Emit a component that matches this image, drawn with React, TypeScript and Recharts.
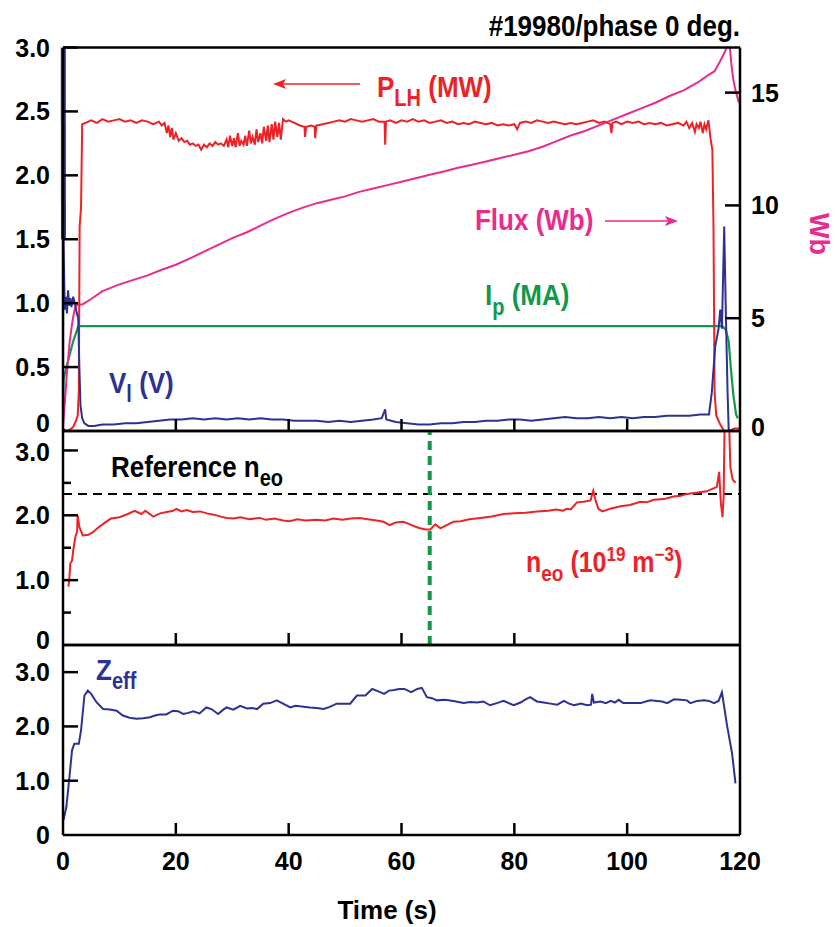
import { Line, LineChart, ReferenceLine, XAxis, YAxis } from 'recharts';

const FONT = '"Liberation Sans", Arial, Helvetica, sans-serif';
const RED = '#EC2227';
const PINK = '#EA2A8E';
const GREEN = '#11994B';
const BLUE = '#2E3192';
const W = 838;
const H = 927;

// axis ticks
const timeTicks = [0, 20, 40, 60, 80, 100, 120];
const mwTicks = [0, 0.5, 1, 1.5, 2, 2.5, 3];
const wbTicks = [0, 5, 10, 15];
const neoTicks = [0, 0.5, 1, 1.5, 2, 2.5, 3];
const zeffTicks = [0, 1, 2, 3];

const neoReference = 2.33;
const scanTime = 65;

// [time (s), value] samples
const pLH: [number, number][] = [
  [0, 0.02], [0.6, 0.0], [1.2, 0.01], [1.8, 0.03], [2.3, 0.08], [2.6, 0.12], [2.8, 0.3], [2.95, 1.6], [3.2, 1.75], [3.4, 2.4],
  [4, 2.41], [5, 2.43], [6, 2.41], [7, 2.44], [8, 2.42], [9, 2.43], [10, 2.44], [11, 2.42], [12, 2.43], [13, 2.41],
  [14, 2.43], [15, 2.42], [16, 2.4], [17, 2.42], [17.5, 2.39], [18, 2.41], [18.4, 2.33], [18.7, 2.39], [19, 2.3], [19.3, 2.37],
  [19.6, 2.28], [20, 2.33], [20.5, 2.27], [21, 2.29], [21.5, 2.26], [22, 2.27], [22.5, 2.24], [23, 2.25], [23.5, 2.23], [24, 2.24],
  [24.5, 2.2], [25, 2.24], [25.5, 2.22], [26, 2.25], [26.5, 2.23], [27, 2.26], [27.5, 2.24], [28, 2.25], [28.5, 2.23], [29, 2.28],
  [29.3, 2.22], [29.6, 2.31], [30, 2.23], [30.3, 2.29], [30.6, 2.22], [31, 2.33], [31.3, 2.23], [31.6, 2.27], [32, 2.24], [32.3, 2.31],
  [32.6, 2.23], [33, 2.35], [33.3, 2.25], [33.6, 2.3], [34, 2.24], [34.3, 2.36], [34.6, 2.26], [35, 2.33], [35.3, 2.25], [35.6, 2.38],
  [36, 2.27], [36.3, 2.39], [36.6, 2.26], [37, 2.4], [37.3, 2.28], [37.6, 2.42], [38, 2.3], [38.3, 2.41], [38.6, 2.28], [39, 2.44],
  [39.5, 2.42], [40, 2.43], [41, 2.41], [42, 2.39], [42.8, 2.38], [42.9, 2.3], [43.1, 2.38], [44, 2.39], [44.6, 2.38], [44.7, 2.29],
  [44.9, 2.39], [46, 2.4], [47, 2.41], [48, 2.42], [49, 2.43], [50, 2.42], [51, 2.44], [52, 2.43], [53, 2.42], [54, 2.43],
  [55, 2.44], [56, 2.42], [57, 2.42], [57.1, 2.24], [57.25, 2.42], [58, 2.43], [59, 2.41], [60, 2.43], [61, 2.42], [62, 2.44],
  [63, 2.42], [64, 2.43], [65, 2.41], [66, 2.42], [67, 2.43], [68, 2.41], [69, 2.42], [70, 2.4], [71, 2.41], [72, 2.4],
  [73, 2.42], [74, 2.41], [75, 2.4], [76, 2.41], [77, 2.39], [78, 2.4], [79, 2.39], [80, 2.4], [80.5, 2.36], [81, 2.41],
  [82, 2.42], [83, 2.41], [84, 2.43], [85, 2.42], [86, 2.41], [87, 2.42], [88, 2.41], [89, 2.4], [90, 2.41], [91, 2.4],
  [92, 2.41], [93, 2.42], [94, 2.43], [95, 2.41], [96, 2.42], [97, 2.4], [97.2, 2.33], [97.4, 2.41], [98, 2.42], [99, 2.4],
  [100, 2.42], [101, 2.41], [102, 2.42], [103, 2.4], [104, 2.41], [105, 2.4], [106, 2.41], [107, 2.39], [108, 2.4], [109, 2.41],
  [110, 2.39], [110.5, 2.42], [111, 2.37], [111.5, 2.41], [112, 2.34], [112.3, 2.4], [112.7, 2.37], [113, 2.42], [113.4, 2.33], [113.7, 2.4],
  [114, 2.36], [114.4, 2.43], [114.8, 2.28], [115.1, 2.2], [115.3, 1.6], [115.5, 0.3], [115.8, 0.12], [116.5, 0.05], [117.2, 0.0], [118, 0.0],
  [119, 0.02], [120, 0.02],
];

const flux: [number, number][] = [
  [0, 0.2], [0.3, 1.2], [0.7, 2.6], [1.2, 4.0], [1.7, 4.9], [2.1, 5.45], [2.5, 5.6], [3.5, 5.62], [5, 5.85], [7, 6.2],
  [10, 6.5], [12.5, 6.7], [15, 6.9], [17.5, 7.15], [20, 7.37], [22.5, 7.65], [25, 7.95], [27.5, 8.25], [30, 8.55], [32.5, 8.8],
  [35, 9.1], [37.5, 9.4], [40, 9.67], [42.5, 9.9], [45, 10.1], [47.5, 10.25], [50, 10.4], [52.5, 10.6], [55, 10.75], [57.5, 10.9],
  [60, 11.05], [62.5, 11.2], [65, 11.36], [67.5, 11.5], [70, 11.67], [72.5, 11.8], [75, 11.95], [77.5, 12.1], [80, 12.25], [82.5, 12.4],
  [85, 12.6], [87.5, 12.85], [90, 13.1], [92.5, 13.3], [95, 13.55], [97.5, 13.8], [100, 14.05], [102.5, 14.3], [105, 14.55], [107.5, 14.85],
  [110, 15.1], [112.5, 15.45], [114.5, 15.8], [115.5, 15.95], [116.5, 16.4], [117.3, 16.8], [117.8, 17.1], [118.2, 17.0], [118.5, 16.2], [118.8, 15.6],
  [119.2, 15.1], [119.8, 14.55],
];

const ip: [number, number][] = [
  [0, 0.2], [0.1, 0.4], [0.6, 0.5], [1.2, 0.6], [1.8, 0.7], [2.4, 0.78], [2.7, 0.82], [116.9, 0.82], [117.5, 0.79], [118.0, 0.7],
  [118.4, 0.48], [118.8, 0.29], [119.3, 0.13], [119.6, 0.1],
];

const vlStart: [number, number][] = [[0.05, 3.0], [0.08, 1.5]];

const vl: [number, number][] = [
  [0, 0.0], [0.05, 3.0], [0.1, 1.5], [0.3, 0.95], [0.5, 1.05], [0.7, 0.92], [0.9, 1.1], [1.1, 0.98], [1.3, 1.04], [1.5, 0.97],
  [1.8, 1.05], [2.1, 1.0], [2.4, 0.93], [2.7, 0.88], [2.9, 0.5], [3.1, 0.2], [3.4, 0.1], [3.8, 0.06], [4.5, 0.04], [5.5, 0.04],
  [7, 0.05], [9, 0.05], [11, 0.06], [13, 0.06], [15, 0.07], [17, 0.08], [19, 0.09], [21, 0.09], [23, 0.1], [25, 0.09],
  [27, 0.1], [29, 0.09], [31, 0.1], [33, 0.09], [35, 0.1], [37, 0.09], [39, 0.09], [41, 0.08], [43, 0.08], [45, 0.08],
  [47, 0.07], [49, 0.08], [51, 0.07], [53, 0.08], [55, 0.09], [56.5, 0.1], [57.1, 0.17], [57.3, 0.09], [59, 0.07], [61, 0.06],
  [63, 0.05], [65, 0.05], [67, 0.06], [69, 0.06], [71, 0.07], [73, 0.07], [75, 0.08], [77, 0.08], [79, 0.09], [81, 0.09],
  [83, 0.08], [85, 0.09], [87, 0.1], [89, 0.11], [91, 0.1], [93, 0.1], [95, 0.11], [97, 0.1], [99, 0.11], [101, 0.1],
  [103, 0.11], [105, 0.11], [107, 0.12], [109, 0.12], [111, 0.12], [113, 0.13], [114.5, 0.13], [115, 0.3], [115.6, 0.66], [116.2, 0.8],
  [116.5, 0.95], [116.8, 0.8], [117.2, 1.6], [117.5, 0.9], [117.8, 0.3], [118, 0.0], [118.5, 0.0],
];

const neo: [number, number][] = [
  [0.95, 0.9], [1.1, 1.0], [1.3, 1.26], [1.6, 1.3], [1.8, 1.45], [2.2, 1.67], [2.5, 1.75], [2.6, 2.0], [2.9, 1.82], [3.5, 1.69],
  [4.5, 1.7], [5.3, 1.74], [6.1, 1.8], [7.3, 1.88], [8.5, 1.95], [10, 1.97], [11.5, 2.02], [12.7, 2.07], [13.9, 2.02], [14.6, 2.07],
  [16, 1.98], [17.2, 2.03], [18.4, 2.05], [19.5, 2.07], [20.1, 2.1], [21, 2.06], [21.9, 2.08], [23, 2.05], [24.3, 2.06], [25.5, 2.03],
  [26.7, 2.01], [28, 1.98], [29, 1.96], [30.2, 1.95], [31.5, 1.97], [33, 1.94], [34.9, 1.96], [36, 1.93], [37.5, 1.95], [39, 1.92],
  [40.2, 1.91], [41.5, 1.94], [43, 1.92], [44.9, 1.93], [46.5, 1.92], [47.9, 1.95], [49.5, 1.93], [51, 1.95], [52.6, 1.96], [54, 1.94],
  [55.6, 1.92], [56.8, 1.9], [57.9, 1.85], [59, 1.89], [60.3, 1.9], [61.5, 1.86], [62.6, 1.82], [63.3, 1.8], [64.3, 1.78], [65.1, 1.78],
  [66, 1.86], [66.9, 1.8], [68, 1.85], [69.2, 1.9], [70.5, 1.91], [72, 1.94], [74, 1.96], [76, 1.98], [78.1, 2.02], [80, 2.03],
  [82, 2.04], [84, 2.06], [86, 2.07], [87.5, 2.09], [88.6, 2.07], [89.3, 2.1], [90, 2.09], [91.1, 2.2], [92.3, 2.21], [93.5, 2.23],
  [94, 2.38], [94.4, 2.23], [94.9, 2.1], [95.6, 2.06], [97, 2.1], [98.8, 2.14], [100.5, 2.16], [102.3, 2.21], [103.5, 2.2], [104.7, 2.24],
  [106.5, 2.25], [108.2, 2.29], [109.5, 2.3], [110.6, 2.33], [112.5, 2.35], [114.1, 2.37], [115.4, 2.42], [115.9, 2.44], [116.3, 2.67], [116.6, 2.2],
  [116.9, 1.97], [117.1, 2.3], [117.3, 3.6], [117.8, 3.6], [118, 3.6], [118.3, 2.74], [118.7, 2.55], [119.2, 2.5],
];

const zeff: [number, number][] = [
  [0.1, 0.28], [0.6, 0.52], [1.2, 1.13], [1.6, 1.56], [2, 1.68], [2.8, 1.68], [3.2, 1.93], [3.8, 2.57], [4.4, 2.66], [5, 2.6],
  [5.9, 2.45], [7.1, 2.32], [8.3, 2.31], [9.5, 2.29], [10.6, 2.2], [11.8, 2.16], [13, 2.14], [14.2, 2.15], [15.4, 2.17], [16.3, 2.2],
  [17.1, 2.22], [18.3, 2.22], [19.5, 2.29], [20.4, 2.28], [21.3, 2.23], [22.2, 2.25], [23.1, 2.28], [24.2, 2.24], [25.4, 2.35], [26.3, 2.32],
  [27.5, 2.23], [28.3, 2.3], [29, 2.35], [30.2, 2.31], [31.4, 2.38], [32.6, 2.33], [33.5, 2.34], [34.4, 2.32], [35.5, 2.42], [36.7, 2.43],
  [37.9, 2.48], [39, 2.42], [40.3, 2.35], [41.2, 2.38], [42, 2.37], [43, 2.36], [43.8, 2.35], [45, 2.34], [46.2, 2.32], [47.3, 2.36],
  [48.5, 2.42], [49.7, 2.42], [50.9, 2.42], [52.1, 2.57], [53.6, 2.57], [54.8, 2.69], [55.8, 2.65], [56.9, 2.6], [57.8, 2.66], [58.7, 2.67],
  [59.6, 2.69], [60.5, 2.69], [61.7, 2.63], [62.8, 2.69], [63.6, 2.71], [64.5, 2.54], [65.4, 2.52], [66.3, 2.48], [67.7, 2.49], [69.2, 2.47],
  [70.1, 2.45], [71, 2.43], [72.2, 2.45], [73.4, 2.44], [74.5, 2.46], [75.7, 2.39], [76.9, 2.43], [78.1, 2.47], [79.9, 2.39], [81.1, 2.44],
  [82, 2.5], [82.8, 2.54], [84, 2.46], [85.2, 2.44], [86.4, 2.42], [87.6, 2.4], [88.8, 2.47], [89.7, 2.42], [90.6, 2.39], [91.8, 2.42],
  [92.9, 2.39], [93.6, 2.4], [93.8, 2.6], [94.1, 2.44], [95.3, 2.46], [96.2, 2.43], [97.1, 2.47], [97.8, 2.44], [98.5, 2.49], [99.3, 2.43],
  [100.6, 2.43], [101.5, 2.43], [102.4, 2.43], [103.3, 2.46], [104.1, 2.48], [105.3, 2.47], [106.2, 2.46], [107.1, 2.43], [108.3, 2.5], [109.5, 2.49],
  [110.6, 2.48], [111.2, 2.43], [112.4, 2.47], [113.6, 2.48], [114.5, 2.47], [115.4, 2.43], [116.2, 2.47], [116.8, 2.63], [117.7, 2.02], [118.6, 1.5],
  [119.2, 0.95],
];

const rows = (pts: [number, number][]) => pts.map(([t, v]) => ({ t, v }));

const frame = { stroke: '#000', strokeWidth: 2.5 };
const labelStyle = { fontFamily: FONT, fontWeight: 700, fontSize: 25, fill: '#000' };

type Side = 'left' | 'right' | 'top' | 'bottom';

// tick marks point into the plot; labels (if any) sit outside.
// nudge moves a label vertically so stacked panels' labels keep clear of each other.
function inwardTick(side: Side, length: (v: number) => number, label?: (v: number) => string, nudge: (v: number) => number = () => 0) {
  return (p: any) => {
    const { x, y } = p;
    const v = p.payload.value as number;
    const len = length(v);
    const dx = side === 'left' ? len : side === 'right' ? -len : 0;
    const dy = side === 'top' ? len : side === 'bottom' ? -len : 0;
    const s = label ? label(v) : '';
    const ly = y + 9 + nudge(v);
    let text = null;
    if (s) {
      if (side === 'left') text = <text x={x - 13} y={ly} textAnchor="end" {...labelStyle}>{s}</text>;
      else if (side === 'right') text = <text x={x + 11} y={ly} textAnchor="start" {...labelStyle}>{s}</text>;
      else if (side === 'bottom') text = <text x={x} y={y + 35} textAnchor="middle" {...labelStyle}>{s}</text>;
    }
    return (
      <g>
        {len > 0 && <line x1={x} y1={y} x2={x + dx} y2={y + dy} stroke="#000" strokeWidth={2.5} />}
        {text}
      </g>
    );
  };
}

const oneDecimal = (v: number) => (v === 0 ? '0' : v.toFixed(1));
const wholeOnly = (v: number) => (v % 1 === 0 ? oneDecimal(v) : '');

function TimeAxes({ labels, topTicks }: { labels: boolean; topTicks: boolean }) {
  return (
    <>
      <XAxis xAxisId="b" type="number" dataKey="t" domain={[0, 120]} ticks={timeTicks} interval={0}
        height={1} tickSize={0} tickMargin={0} axisLine={frame} tickLine={false}
        tick={inwardTick('bottom', v => (v > 0 && v < 120 ? 12 : 0), labels ? v => String(v) : undefined)} />
      <XAxis xAxisId="t" orientation="top" type="number" dataKey="t" domain={[0, 120]} ticks={timeTicks} interval={0}
        height={1} tickSize={0} tickMargin={0} axisLine={frame} tickLine={false}
        tick={topTicks ? inwardTick('top', v => (v > 0 && v < 120 ? 12 : 0)) : false} />
    </>
  );
}

function Caption({ x, y, fill, anchor = 'start', size = 26, children }: {
  x: number; y: number; fill: string; anchor?: 'start' | 'middle' | 'end'; size?: number; children: React.ReactNode;
}) {
  return (
    <text transform={`translate(${x},${y}) scale(1,1.15)`} fill={fill} fontSize={size} fontWeight={700}
      fontFamily={FONT} textAnchor={anchor}>
      {children}
    </text>
  );
}

const layer: React.CSSProperties = { position: 'absolute', left: 0, top: 0 };

export default function App() {
  return (
    <div style={{ position: 'absolute', left: 0, top: 0, width: W, height: H, background: '#fff' }}>
      {/* power, flux, current, loop voltage */}
      <div style={layer}>
        <LineChart width={W} height={H} margin={{ top: 46.5, right: 97, bottom: H - 431 - 1, left: 62 }}>
          <TimeAxes labels={false} topTicks={false} />
          <YAxis yAxisId="L" type="number" domain={[0, 3]} ticks={mwTicks} interval={0} allowDataOverflow
            width={1} tickSize={0} tickMargin={0} axisLine={frame} tickLine={false}
            tick={inwardTick('left', v => (v > 0 ? 15 : 0), oneDecimal, v => (v === 0 ? -8 : 0))} />
          <YAxis yAxisId="R" orientation="right" type="number" domain={[0, 17]} ticks={wbTicks} interval={0} allowDataOverflow
            width={1} tickSize={0} tickMargin={0} axisLine={frame} tickLine={false}
            tick={inwardTick('right', v => (v > 0 ? 15 : 0), v => String(v), v => (v === 0 ? -4 : 0))} />
          <Line xAxisId="b" yAxisId="L" data={rows(ip)} dataKey="v" stroke={GREEN} strokeWidth={2.2} dot={false} isAnimationActive={false} />
          <Line xAxisId="b" yAxisId="R" data={rows(flux)} dataKey="v" stroke={PINK} strokeWidth={2} dot={false} isAnimationActive={false} />
          <Line xAxisId="b" yAxisId="L" data={rows(pLH)} dataKey="v" stroke={RED} strokeWidth={2} dot={false} isAnimationActive={false} />
          <Line xAxisId="b" yAxisId="L" data={rows(vl)} dataKey="v" stroke={BLUE} strokeWidth={2} dot={false} isAnimationActive={false} />
          <Line xAxisId="b" yAxisId="L" data={rows(vlStart)} dataKey="v" stroke={BLUE} strokeWidth={5} dot={false} isAnimationActive={false} />
        </LineChart>
      </div>

      {/* central density */}
      <div style={layer}>
        <LineChart width={W} height={H} margin={{ top: 430, right: 97, bottom: H - 645 - 1, left: 62 }}>
          <TimeAxes labels={false} topTicks />
          <YAxis yAxisId="L" type="number" domain={[0, 3.3]} ticks={neoTicks} interval={0} allowDataOverflow
            width={1} tickSize={0} tickMargin={0} axisLine={frame} tickLine={false}
            tick={inwardTick('left', v => (v === 0 ? 0 : v % 1 === 0 ? 15 : 8), wholeOnly, v => (v === 0 ? -5 : v === 3 ? 2 : 0))} />
          <YAxis yAxisId="R" orientation="right" type="number" domain={[0, 3.3]} ticks={neoTicks} interval={0}
            width={1} tickSize={0} tickMargin={0} axisLine={frame} tickLine={false}
            tick={inwardTick('right', v => (v === 0 ? 0 : v % 1 === 0 ? 15 : 8))} />
          <ReferenceLine xAxisId="b" yAxisId="L" y={neoReference} stroke="#000" strokeWidth={2} strokeDasharray="9 6" />
          <ReferenceLine xAxisId="b" yAxisId="L" x={scanTime} stroke={GREEN} strokeWidth={4} strokeDasharray="9 6" />
          <Line xAxisId="b" yAxisId="L" data={rows(neo)} dataKey="v" stroke={RED} strokeWidth={2} dot={false} isAnimationActive={false} />
        </LineChart>
      </div>

      {/* effective charge */}
      <div style={layer}>
        <LineChart width={W} height={H} margin={{ top: 644, right: 97, bottom: H - 835 - 1, left: 62 }}>
          <TimeAxes labels topTicks />
          <YAxis yAxisId="L" type="number" domain={[0, 3.5]} ticks={zeffTicks} interval={0} allowDataOverflow
            width={1} tickSize={0} tickMargin={0} axisLine={frame} tickLine={false}
            tick={inwardTick('left', v => (v > 0 ? 15 : 0), oneDecimal)} />
          <YAxis yAxisId="R" orientation="right" type="number" domain={[0, 3.5]} ticks={zeffTicks} interval={0}
            width={1} tickSize={0} tickMargin={0} axisLine={frame} tickLine={false}
            tick={inwardTick('right', v => (v > 0 ? 15 : 0))} />
          <Line xAxisId="b" yAxisId="L" data={rows(zeff)} dataKey="v" stroke={BLUE} strokeWidth={2} dot={false} isAnimationActive={false} />
        </LineChart>
      </div>

      {/* titles and trace captions */}
      <svg width={W} height={H} style={{ ...layer, pointerEvents: 'none' }}>
        <Caption x={740} y={36} fill="#000" anchor="end">#19980/phase 0 deg.</Caption>

        <line x1={360} y1={84} x2={282} y2={84} stroke={RED} strokeWidth={1.5} />
        <polygon points="273,84 286,79 283,84 286,89" fill={RED} />
        <Caption x={377} y={97} fill={RED}>
          P<tspan fontSize={20} dy={8}>LH</tspan><tspan dy={-8}> (MW)</tspan>
        </Caption>

        <Caption x={475} y={230} fill={PINK}>Flux (Wb)</Caption>
        <line x1={605} y1={221} x2={668} y2={221} stroke={PINK} strokeWidth={1.5} />
        <polygon points="678,221 665,216 668,221 665,226" fill={PINK} />

        <Caption x={485} y={305} fill={GREEN}>
          I<tspan fontSize={20} dy={9}>p</tspan><tspan dy={-9}> (MA)</tspan>
        </Caption>

        <Caption x={109} y={393} fill={BLUE}>
          V<tspan fontSize={20} dy={8}>l</tspan><tspan dy={-8}> (V)</tspan>
        </Caption>

        <text transform="translate(810,234) rotate(90)" fill={PINK} fontSize={27} fontWeight={700}
          fontFamily={FONT} textAnchor="middle">Wb</text>

        <Caption x={111} y={477} fill="#000">
          Reference n<tspan fontSize={20} dy={8}>eo</tspan>
        </Caption>

        <Caption x={526} y={572} fill={RED} size={25}>
          n<tspan fontSize={19} dy={8}>eo</tspan>
          <tspan dy={-8}> (10</tspan>
          <tspan fontSize={17} dy={-10}>19</tspan>
          <tspan dy={10}> m</tspan>
          <tspan fontSize={17} dy={-10}>−3</tspan>
          <tspan dy={10}>)</tspan>
        </Caption>

        <Caption x={96} y={680} fill={BLUE}>
          Z<tspan fontSize={20} dy={8}>eff</tspan>
        </Caption>

        <text x={387} y={919} textAnchor="middle" fontFamily={FONT} fontWeight={700} fontSize={26} fill="#000">Time (s)</text>
      </svg>
    </div>
  );
}
